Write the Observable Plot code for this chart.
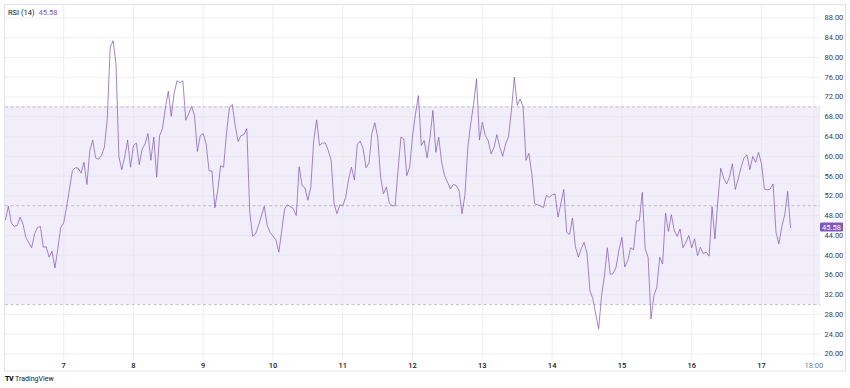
<!DOCTYPE html>
<html><head><meta charset="utf-8">
<script src="https://cdn.jsdelivr.net/npm/d3@7"></script>
<script src="https://cdn.jsdelivr.net/npm/@observablehq/plot@0.6"></script>
<style>
body{margin:0;background:#fff;font-family:Roboto,"Liberation Sans",sans-serif;}
#wrap{position:relative;width:850px;height:388px;overflow:hidden;}
#hdr{position:absolute;left:8px;top:8px;font-size:7.5px;color:#131722;line-height:10px;}
#hdr .v{color:#7E57C2;margin-left:4px}
#logo{position:absolute;left:5px;top:374px;font-size:7px;color:#131722;line-height:10px;}
#logo b{font-weight:900;letter-spacing:-0.5px;margin-right:2px}
</style></head><body>
<div id="wrap"><div id="chart"></div><div id="hdr">RSI (14)<span class="v">45.58</span></div><div id="logo"><b>TV</b>TradingView</div></div>
<script>
// hours relative to day 7, 00:00
const hours = [
-20,-19,-18,-17,-16,-15,-14,-13,-11,-10,-9,-8,-7,-6,-5,-4,-3,-2,-1,0,
1,3,4,5,6,7,8,9,10,11,12,13,14,15,16,17,18,19,20,21,
22,23,24,25,26,27,28,29,30,31,32,33,34,35,36,37,38,39,40,41,
42,43,44,45,46,47,48,49,50,51,52,53,54,55,56,57,58,59,60,61,
62,63,64,65,66,67,69,70,71,73,74,75,76,77,79,80,81,82,83,84,
85,86,87,88,89,90,91,92,93,94,95,96,97,98,99,100,101,102,103,104,
105,106,107,108,109,110,111,112,113,114,115,116,117,118,119,120,121,122,123,124,
125,126,127,128,129,130,131,132,133,134,135,136,137,138,139,140,141,142,143,144,
145,146,147,148,149,150,151,152,153,154,155,156,157,158,159,160,161,162,163,164,
165,166,167,168,169,170,171,172,173,174,175,176,177,178,179,180,181,182,183,184,
185,186,187,188,189,190,191,192,193,194,195,196,197,198,199,200,201,202,203,204,
205,206,207,208,209,210,211,212,213,214,215,216,217,218,219,220,221,222,223,224,
225,226,227,228,229,230,231,232,233,234,235,236,237,238,239,240,241,242,243,244,
245,246,247,248,249,250
];
const rsi = [
47.2,49.9,46.5,45.8,46.0,47.7,46.3,43.6,41.5,44.3,45.6,45.8,41.6,41.7,39.6,40.8,37.4,41.3,45.6,46.5,
49.7,57.1,57.7,57.6,56.6,58.8,54.3,61.2,63.3,59.7,59.4,60.2,61.8,67.6,82.1,83.4,78.7,59.9,57.3,59.9,
63.3,57.8,62.2,62.7,58.3,61.5,62.5,64.6,59.2,63.9,55.8,64.2,65.6,69.9,73.2,68.1,72.8,75.3,74.9,75.3,
67.3,68.6,70.1,68.3,61.0,64.2,64.6,62.5,57.1,57.0,49.6,53.1,58.1,57.8,64.6,69.9,70.5,66.2,63.0,64.2,
64.4,65.6,48.7,43.8,44.3,46.0,49.9,46.0,44.6,43.1,40.6,45.0,49.4,50.2,49.4,48.0,57.9,54.1,53.6,51.1,
53.8,63.2,67.4,62.2,62.7,62.7,61.2,59.2,50.4,48.4,50.2,50.0,51.7,55.4,57.8,55.2,62.4,63.1,61.5,57.7,
58.6,64.6,66.8,63.9,55.8,52.4,53.8,50.5,50.0,50.0,57.1,63.9,63.5,56.1,57.8,64.2,68.6,72.3,62.2,63.2,
59.7,63.9,69.3,60.8,63.9,58.8,56.1,54.8,53.4,54.3,54.1,53.1,48.4,52.1,61.8,66.6,70.6,75.7,63.3,66.9,
64.2,63.2,60.5,61.8,64.4,61.8,60.0,62.5,64.0,69.3,76.0,70.3,71.6,70.1,59.2,60.6,56.5,50.4,50.2,50.0,
49.6,52.1,51.7,52.2,52.4,47.7,50.4,53.3,44.6,44.2,47.5,41.7,39.6,41.3,42.6,40.3,32.8,31.2,28.1,25.1,
31.8,35.9,41.5,36.1,36.3,37.6,41.1,43.6,37.6,38.9,41.5,41.1,46.9,47.0,52.7,41.3,39.6,27.1,31.8,33.5,
39.6,38.2,48.5,44.8,48.2,45.0,43.8,45.3,41.5,42.6,44.0,41.5,43.3,39.9,41.6,40.3,40.6,39.8,49.8,43.3,
51.1,57.6,55.6,54.4,55.8,58.5,53.3,55.4,57.8,59.7,60.3,57.3,60.0,58.8,60.8,58.5,53.4,53.2,53.4,54.4,
44.6,42.3,45.8,48.2,52.9,45.58
];
const yTicks = [20,24,28,32,36,40,44,48,52,56,60,64,68,72,76,80,84,88];
const xTickHours = [0,24,48,72,96,120,144,168,192,216,240];
const xTickLabels = ["7","8","9","10","11","12","13","14","15","16","17"];
const xEndTickHour = [258];
const xEndTickLabel = ["18:00"];
const bandLow = 30, bandMid = 50, bandHigh = 70;
const lastValue = 45.58;
const xDomain = [-20, 260.3];
const yDomain = [18.68, 90.53];

const data = hours.map((h, i) => ({h, v: rsi[i]}));
const purple = "#7E57C2";

const chart = Plot.plot({
  width: 850, height: 372,
  marginLeft: 5, marginRight: 30, marginTop: 5, marginBottom: 12,
  style: {fontFamily: "Roboto, 'Liberation Sans', sans-serif", fontSize: "7.5px", background: "#fff"},
  x: {type: "linear", domain: xDomain},
  y: {type: "linear", domain: yDomain},
  marks: [
    Plot.rect([{}], {x1: xDomain[0], x2: xDomain[1], y1: bandLow, y2: bandHigh, fill: purple, fillOpacity: 0.1}),
    Plot.gridY(yTicks, {stroke: "#dfe2ea", strokeOpacity: 0.55}),
    Plot.gridX(xTickHours.concat(xEndTickHour), {stroke: "#dfe2ea", strokeOpacity: 0.55}),
    Plot.ruleY([bandLow, bandMid, bandHigh], {stroke: "#9598a1", strokeOpacity: 0.75, strokeDasharray: "3,2.5", strokeWidth: 0.8}),
    Plot.line(data, {x: "h", y: "v", stroke: purple, strokeWidth: 0.9, strokeOpacity: 0.8}),
    Plot.axisX(xTickHours, {tickSize: 0, tickPadding: 2, fontSize: 7.5, fill: "#131722", fontWeight: 500,
      tickFormat: d => xTickLabels[xTickHours.indexOf(d)], label: null}),
    Plot.axisX(xEndTickHour, {tickSize: 0, tickPadding: 2, fontSize: 7.5, fill: "#787b86",
      tickFormat: d => xEndTickLabel[xEndTickHour.indexOf(d)], label: null}),
    Plot.axisY(yTicks, {anchor: "right", tickSize: 0, tickPadding: 4, fontSize: 7.5, fill: "#3a3e4a",
      tickFormat: d => d.toFixed(2), label: null})
  ]
});
document.getElementById("chart").appendChild(chart);

const svg = d3.select(chart);
const yy = chart.scale("y").apply(lastValue);
svg.append("rect").attr("x", 820).attr("y", yy - 4.5).attr("width", 23).attr("height", 9)
  .attr("fill", purple).attr("rx", 1);
svg.append("text").attr("x", 831.5).attr("y", yy).attr("dy", "0.35em").attr("text-anchor", "middle")
  .attr("fill", "#fff").attr("font-size", 7.5).text(lastValue.toFixed(2));
svg.append("rect").attr("x", 4.5).attr("y", 4.5).attr("width", 841).attr("height", 366.5)
  .attr("fill", "none").attr("stroke", "#e0e3eb").attr("stroke-width", 1);
</script>
</body></html>
